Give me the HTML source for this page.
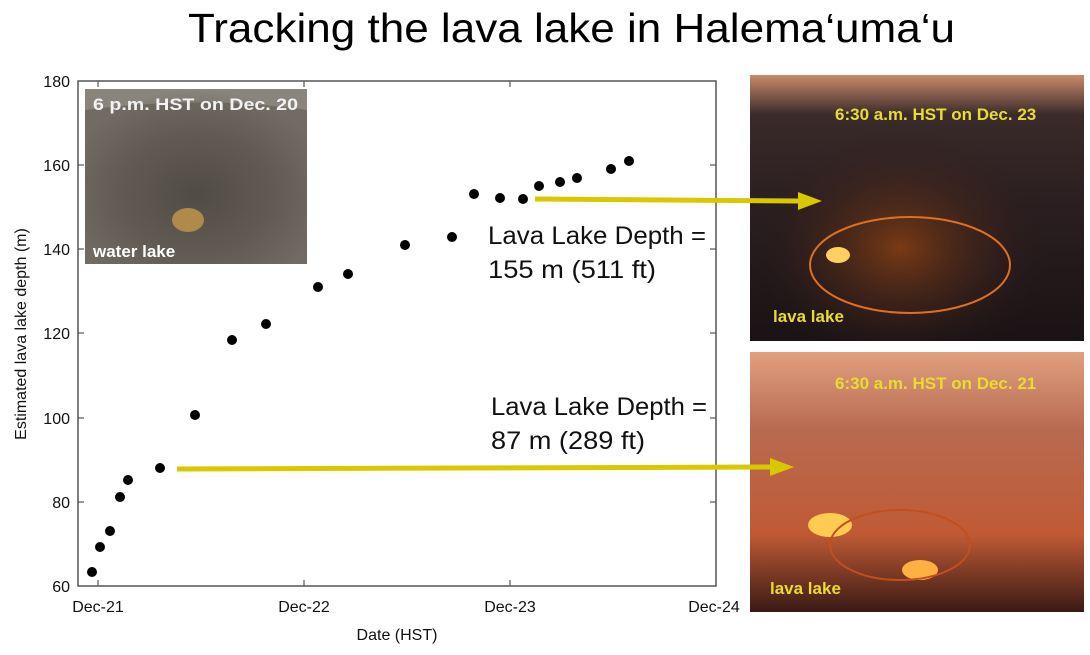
<!DOCTYPE html>
<html><head><meta charset="utf-8"><style>
body{margin:0;width:1090px;height:650px;background:#fff;overflow:hidden;font-family:"Liberation Sans",sans-serif}
</style></head><body>
<svg width="1090" height="650" xmlns="http://www.w3.org/2000/svg" font-family="Liberation Sans, sans-serif">
<defs>
<radialGradient id="crater" cx="0.5" cy="0.6" r="0.6">
<stop offset="0" stop-color="#4a4540"/><stop offset="0.6" stop-color="#6b655c"/><stop offset="1" stop-color="#8a857c"/></radialGradient>
<linearGradient id="sky1" x1="0" y1="0" x2="0" y2="1">
<stop offset="0" stop-color="#c98a6a"/><stop offset="0.15" stop-color="#3a2a2a"/><stop offset="0.5" stop-color="#2a1e20"/><stop offset="1" stop-color="#1a1214"/></linearGradient>
<radialGradient id="glow1" cx="0.45" cy="0.65" r="0.45">
<stop offset="0" stop-color="#7a3a14"/><stop offset="1" stop-color="#2a1c1e" stop-opacity="0"/></radialGradient>
<linearGradient id="sky2" x1="0" y1="0" x2="0" y2="1">
<stop offset="0" stop-color="#e0a080"/><stop offset="0.3" stop-color="#b86a50"/><stop offset="0.7" stop-color="#c05a35"/><stop offset="1" stop-color="#3a1a14"/></linearGradient>
</defs>
<text x="188" y="42" font-size="41" textLength="767" lengthAdjust="spacingAndGlyphs" fill="#000">Tracking the lava lake in Halema‘uma‘u</text>
<!-- axes -->
<rect x="78" y="81" width="638" height="505" fill="none" stroke="#555" stroke-width="1.5"/>
<g stroke="#555" stroke-width="1.2">
<line x1="78" y1="165" x2="84" y2="165"/><line x1="78" y1="249" x2="84" y2="249"/><line x1="78" y1="333" x2="84" y2="333"/><line x1="78" y1="418" x2="84" y2="418"/><line x1="78" y1="502" x2="84" y2="502"/>
<line x1="716" y1="165" x2="710" y2="165"/><line x1="716" y1="249" x2="710" y2="249"/><line x1="716" y1="333" x2="710" y2="333"/><line x1="716" y1="418" x2="710" y2="418"/><line x1="716" y1="502" x2="710" y2="502"/>
<line x1="98" y1="586" x2="98" y2="580"/><line x1="304" y1="586" x2="304" y2="580"/><line x1="510" y1="586" x2="510" y2="580"/>
<line x1="98" y1="81" x2="98" y2="87"/><line x1="304" y1="81" x2="304" y2="87"/><line x1="510" y1="81" x2="510" y2="87"/>
</g>
<g font-size="16" fill="#111" text-anchor="end">
<text x="70" y="87">180</text><text x="70" y="171">160</text><text x="70" y="255">140</text><text x="70" y="339">120</text><text x="70" y="424">100</text><text x="70" y="508">80</text><text x="70" y="592">60</text>
</g>
<g font-size="16" fill="#111" text-anchor="middle">
<text x="98" y="612">Dec-21</text><text x="304" y="612">Dec-22</text><text x="510" y="612">Dec-23</text><text x="714" y="612">Dec-24</text>
<text x="397" y="640">Date (HST)</text>
</g>
<text transform="translate(26,334) rotate(-90)" font-size="16" text-anchor="middle" fill="#111">Estimated lava lake depth (m)</text>
<!-- inset photo -->
<rect x="85" y="89" width="222" height="175" fill="url(#crater)"/>
<path d="M85 110 Q200 95 307 110 L307 264 L85 264Z" fill="#57524b" opacity="0.5"/>
<ellipse cx="188" cy="220" rx="16" ry="12" fill="#b08a4a"/>
<text x="93" y="110" font-size="17" font-weight="bold" fill="#f2f2f2" textLength="205" lengthAdjust="spacingAndGlyphs">6 p.m. HST on Dec. 20</text>
<text x="93" y="257" font-size="17" font-weight="bold" fill="#fff">water lake</text>
<!-- points -->
<g fill="#000">
<circle cx="92" cy="572" r="5"/><circle cx="100" cy="547" r="5"/><circle cx="110" cy="531" r="5"/><circle cx="120" cy="497" r="5"/><circle cx="128" cy="480" r="5"/><circle cx="160" cy="468" r="5"/><circle cx="195" cy="415" r="5"/><circle cx="232" cy="340" r="5"/><circle cx="266" cy="324" r="5"/><circle cx="318" cy="287" r="5"/><circle cx="348" cy="274" r="5"/><circle cx="405" cy="245" r="5"/><circle cx="452" cy="237" r="5"/><circle cx="474" cy="194" r="5"/><circle cx="500" cy="198" r="5"/><circle cx="523" cy="199" r="5"/><circle cx="539" cy="186" r="5"/><circle cx="560" cy="182" r="5"/><circle cx="577" cy="178" r="5"/><circle cx="611" cy="169" r="5"/><circle cx="629" cy="161" r="5"/>
</g>
<g font-size="25" fill="#111" lengthAdjust="spacingAndGlyphs">
<text x="488" y="244" textLength="218" lengthAdjust="spacingAndGlyphs">Lava Lake Depth =</text><text x="488" y="278" textLength="168" lengthAdjust="spacingAndGlyphs">155 m (511 ft)</text>
<text x="491" y="415" textLength="216" lengthAdjust="spacingAndGlyphs">Lava Lake Depth =</text><text x="491" y="449" textLength="154" lengthAdjust="spacingAndGlyphs">87 m (289 ft)</text>
</g>
<!-- photos -->
<rect x="750" y="75" width="334" height="266" fill="url(#sky1)"/>
<rect x="750" y="75" width="334" height="266" fill="url(#glow1)"/>
<ellipse cx="910" cy="265" rx="100" ry="48" fill="none" stroke="#e07020" stroke-width="2"/>
<ellipse cx="838" cy="255" rx="12" ry="8" fill="#ffd060"/>
<text x="835" y="120" font-size="17" font-weight="bold" fill="#e8dc30">6:30 a.m. HST on Dec. 23</text>
<text x="773" y="322" font-size="17" font-weight="bold" fill="#e8dc30">lava lake</text>
<rect x="750" y="352" width="334" height="260" fill="url(#sky2)"/>
<ellipse cx="830" cy="525" rx="22" ry="12" fill="#ffcc50"/>
<ellipse cx="920" cy="570" rx="18" ry="10" fill="#ffb040"/>
<ellipse cx="900" cy="545" rx="70" ry="35" fill="none" stroke="#c05020" stroke-width="2"/>
<text x="835" y="389" font-size="17" font-weight="bold" fill="#e8dc30">6:30 a.m. HST on Dec. 21</text>
<text x="770" y="594" font-size="17" font-weight="bold" fill="#e8dc30">lava lake</text>
<!-- arrows -->
<line x1="535" y1="199" x2="800" y2="201" stroke="#d8c800" stroke-width="5"/>
<polygon points="822,201 798,192 798,210" fill="#d8c800"/>
<line x1="177" y1="469" x2="770" y2="467" stroke="#d8c800" stroke-width="5"/>
<polygon points="794,467 770,458 770,476" fill="#d8c800"/>
</svg>
</body></html>
